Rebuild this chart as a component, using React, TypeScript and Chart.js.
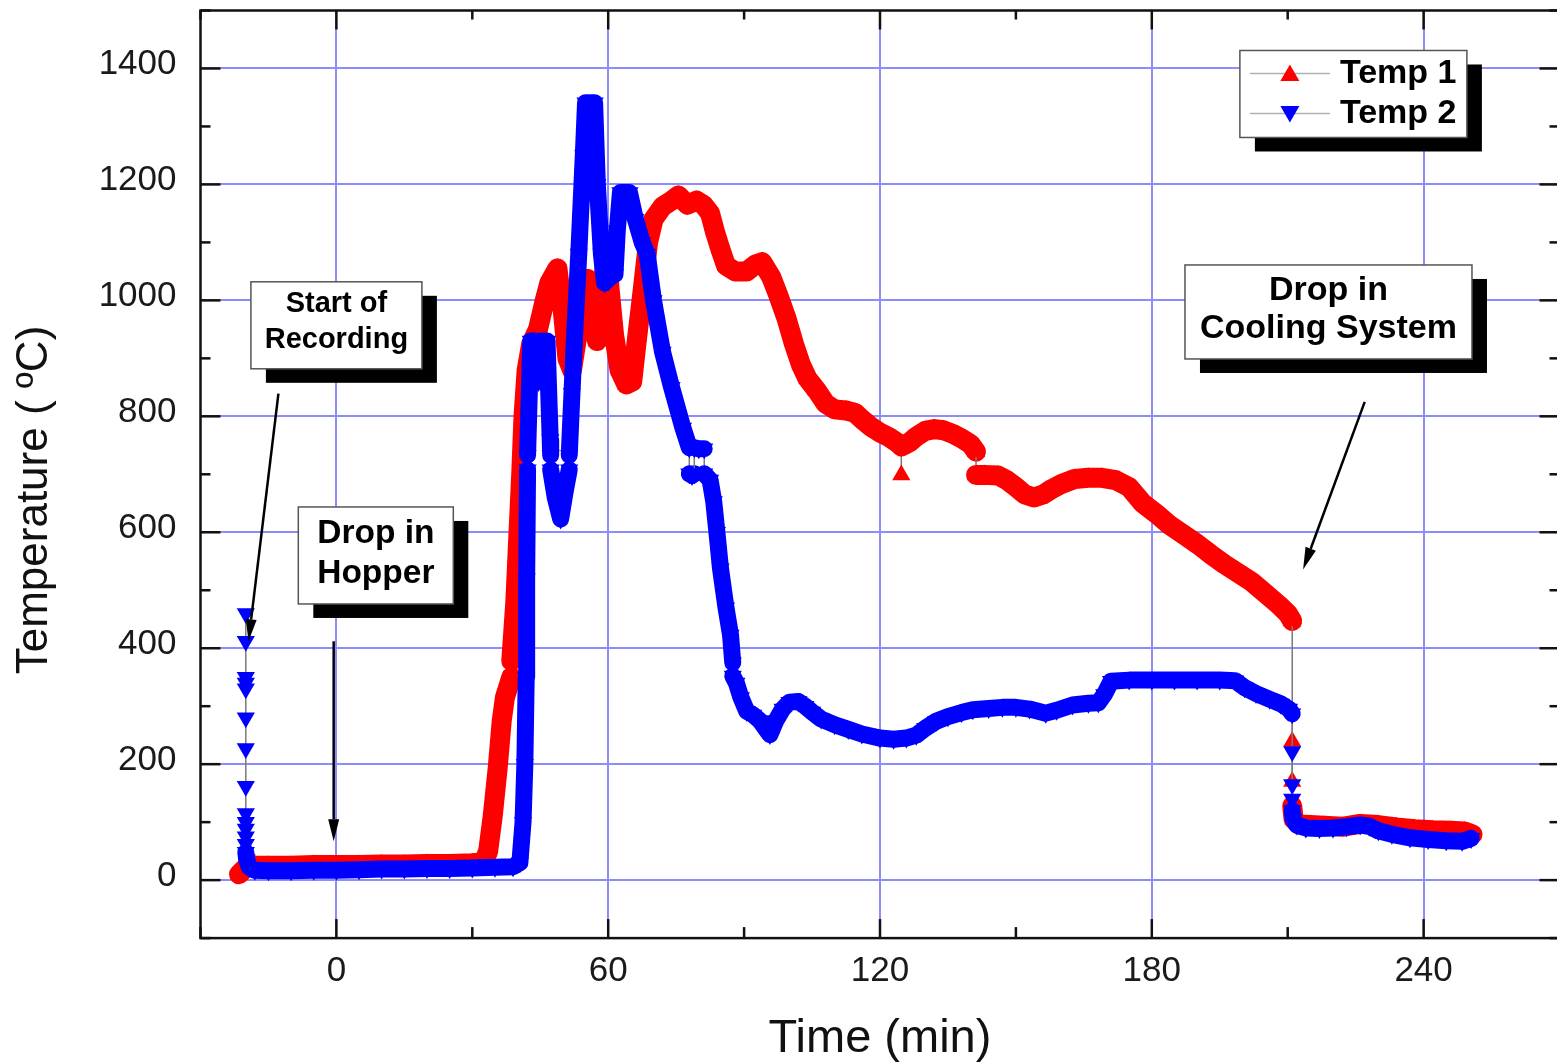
import { useEffect, useRef } from "react";
import { Chart, registerables } from "chart.js";

Chart.register(...registerables);

// ---------------- data ----------------
const seriesNames = ["Temp 1", "Temp 2"];

const temp1Time = [
  -21.5, -20.5, -19.5, -15, -10, -5, 0, 5, 10, 15, 20, 25, 30, 32.5, 33.5, 34.5, 35.6, 36.5, 37.2, 38.6, 38.6,
  39.5, 40.2, 40.8, 41.3, 42, 43, 44.5, 46, 47, 48.8, 50, 51, 52, 53, 54.5, 55.4, 56.5, 57.5, 58.5, 59.5, 60.3,
  61.3, 62.5, 64, 65.3, 66.3, 67.5, 68.8, 70, 72, 74, 75.5, 77.5, 79.5, 81, 82.5, 83.5, 84.7, 86, 88, 90.6, 92.5,
  94, 96, 97.5, 99.4, 101, 102.5, 104, 106, 108, 110, 112.5, 114.5, 116, 118, 120, 122, 124.7, 124.7, 124.7,
  126.5, 128, 130, 132, 134, 136, 138, 140, 141.2, 141.2, 143, 146, 148, 150, 152, 154, 156, 158, 160, 163, 166,
  169, 172, 175, 178, 181, 184, 187, 190, 193, 196, 199, 202, 205, 208, 210, 211, 211, 211, 211, 211.3, 212.5,
  215, 218, 222, 226, 230, 234, 238, 242, 246, 249, 250.8,
];
const temp1Values = [
  10, 18, 25, 25, 25, 26, 26, 26, 27, 27, 28, 28, 29, 31, 50, 110, 193, 275, 315, 350, 378,
  480, 600, 700, 800, 880, 925, 950, 1000, 1030, 1055, 980, 900, 880, 930, 1000, 1037, 1000, 930, 960, 1100, 1020,
  940, 880, 855, 860, 930, 1010, 1100, 1140, 1162, 1172, 1181, 1165, 1172, 1165, 1150, 1120, 1090, 1060, 1050, 1050, 1062,
  1066, 1040, 1010, 968, 925, 890, 865, 845, 822, 812, 810, 806, 795, 782, 772, 764, 750, 699, 748,
  755, 765, 775, 778, 776, 770, 762, 752, 739, 699, 699, 698, 690, 678, 665, 660, 665, 675, 683, 692, 694,
  694, 690, 678, 650, 632, 612, 596, 580, 562, 545, 530, 515, 495, 475, 460, 447, 239, 170, 128, 105, 96,
  95, 94, 92, 97, 95, 91, 88, 86, 85, 84, 79,
];

const temp2Time = [
  -20, -20, -20, -20, -20, -20, -20, -20, -20, -20, -20, -20, -20, -20, -19.8, -19.2, -18, -15, -10, -5, 0, 5, 10,
  15, 20, 25, 30, 35, 39, 40.5, 41.2, 41.6, 41.9, 42.0, 42.2, 42.2, 42.9, 44, 44.6, 45.3, 46.5, 47.2, 47.3, 47.3,
  48.3, 49.5, 50.5, 51.4, 51.4, 52, 52.6, 53.5, 54.5, 55, 57, 57.6, 58.5, 59.2, 60.3, 61.5, 62, 62.7, 64.7, 66,
  67.5, 68.6, 70, 72, 74, 76.5, 77.9, 77.9, 78.5, 79, 79, 80, 81.2, 81.2, 82.5, 83.3, 84, 84.8, 86, 87, 87.5, 87.5,
  88.3, 89.3, 90.6, 92, 93.5, 95.7, 97, 98.5, 100, 102, 103.5, 105, 107, 110, 113, 116, 120, 123, 125.8, 128, 130,
  132.4, 135, 138, 140.5, 144, 147, 150, 153, 156.6, 159, 162.5, 166, 168.2, 169.5, 171, 175, 180, 185, 190, 195,
  198.4, 200.5, 203, 206, 208.5, 210.3, 211, 211, 211, 211, 211, 211.2, 212, 214, 217, 220, 223, 226, 228, 230,
  233, 237, 241, 245, 248.5, 250.5,
];
const temp2Values = [
  460, 412, 350, 340, 330, 280, 227, 162, 115, 100, 88, 75, 62, 48, 35, 22, 17, 16, 16, 17, 17, 18, 19,
  19, 20, 20, 21, 22, 23, 30, 100, 200, 350, 520, 708, 733, 930, 930, 860, 930, 930, 760, 733, 708,
  660, 623, 670, 708, 733, 840, 942, 1080, 1250, 1341, 1341, 1200, 1080, 1030, 1040, 1045, 1120, 1186, 1186, 1140,
  1100, 1080, 1000, 911, 850, 780, 746, 701, 698, 701, 746, 744, 744, 701, 690, 653, 600, 537, 470, 423, 375, 352,
  340, 315, 291, 285, 275, 251, 275, 295, 307, 308, 300, 290, 278, 268, 260, 252, 245, 243, 245, 250, 262,
  274, 282, 289, 294, 296, 298, 298, 295, 288, 293, 302, 305, 306, 320, 343, 345, 345, 345, 345, 345,
  344, 332, 322, 312, 304, 295, 287, 222, 165, 140, 120, 105, 95, 90, 89, 90, 92, 95, 93, 85,
  79, 73, 70, 68, 67, 72,
];

const xMajorTicks = [0, 60, 120, 180, 240];
const xMinorTicks = [-30, 30, 90, 150, 210, 270];
const yMajorTicks = [0, 200, 400, 600, 800, 1000, 1200, 1400];
const yMinorTicks = [-100, 100, 300, 500, 700, 900, 1100, 1300, 1500];

const xTitle = "Time (min)";
const yTitle = "Temperature ( \u00BAC)";
const noteStart = ["Start of", "Recording"];
const noteHopper = ["Drop in", "Hopper"];
const noteCooling = ["Drop in", "Cooling System"];

// ---------------- styling / layout ----------------
const FONT = "'Liberation Sans', Arial, Helvetica, sans-serif";
const RED = "#ff0000";
const BLUE = "#0000ff";
const GRID = "#8c8cff";

type Box = { t: number; v: number; w: number; h: number; lines: string[]; offs: number[]; size: number };
const boxes: Box[] = [
  { t: 0, v: 957, w: 171, h: 87, lines: noteStart, offs: [-21, 14.5], size: 29 },
  { t: 8.7, v: 560, w: 155, h: 97, lines: noteHopper, offs: [-22, 18], size: 33.5 },
  { t: 219, v: 980, w: 287, h: 94, lines: noteCooling, offs: [-21, 17], size: 34 },
];
const arrows = [
  { t1: -12.8, v1: 839, t2: -19.4, v2: 412 },
  { t1: -0.6, v1: 412, t2: -0.6, v2: 67 },
  { t1: 227, v1: 825, t2: 213.4, v2: 536 },
];
const legendAnchor = { t: 224.5, v: 1356, w: 227, h: 87 };

const isGap = (c: any) => Math.abs(c.p1.x - c.p0.x) < 0.05;

function drawArrow(ctx: CanvasRenderingContext2D, x1: number, y1: number, x2: number, y2: number) {
  const ang = Math.atan2(y2 - y1, x2 - x1);
  const hl = 22;
  const hw = 5.5;
  const bx = x2 - Math.cos(ang) * hl;
  const by = y2 - Math.sin(ang) * hl;
  ctx.strokeStyle = "#000";
  ctx.lineWidth = 2.5;
  ctx.beginPath();
  ctx.moveTo(x1, y1);
  ctx.lineTo(bx, by);
  ctx.stroke();
  ctx.fillStyle = "#000";
  ctx.beginPath();
  ctx.moveTo(x2, y2);
  ctx.lineTo(bx - Math.sin(ang) * hw, by + Math.cos(ang) * hw);
  ctx.lineTo(bx + Math.sin(ang) * hw, by - Math.cos(ang) * hw);
  ctx.closePath();
  ctx.fill();
}

function drawShadowBox(ctx: CanvasRenderingContext2D, cx: number, cy: number, w: number, h: number) {
  const l = cx - w / 2;
  const t = cy - h / 2;
  ctx.fillStyle = "#000";
  ctx.fillRect(l + 15, t + 14, w, h);
  ctx.fillStyle = "#fff";
  ctx.fillRect(l, t, w, h);
  ctx.strokeStyle = "#555";
  ctx.lineWidth = 1.5;
  ctx.strokeRect(l, t, w, h);
}

function triangle(ctx: CanvasRenderingContext2D, x: number, y: number, r: number, down: boolean) {
  const s = down ? -1 : 1;
  ctx.beginPath();
  ctx.moveTo(x, y - s * r);
  ctx.lineTo(x + r * 0.866, y + s * r * 0.5);
  ctx.lineTo(x - r * 0.866, y + s * r * 0.5);
  ctx.closePath();
  ctx.fill();
}

const decorPlugin = {
  id: "decor",
  afterDatasetsDraw(chart: any) {
    const { ctx, chartArea: ca, scales } = chart;
    const xs = scales.x;
    const ys = scales.y;
    ctx.save();
    ctx.strokeStyle = "#111";
    ctx.lineWidth = 2.5;
    ctx.strokeRect(ca.left, ca.top, ca.right - ca.left, ca.bottom - ca.top);
    const seg = (a: number, b: number, c: number, d: number) => {
      ctx.beginPath();
      ctx.moveTo(a, b);
      ctx.lineTo(c, d);
      ctx.stroke();
    };
    xMajorTicks.forEach((v) => {
      const p = xs.getPixelForValue(v);
      seg(p, ca.bottom, p, ca.bottom - 19);
      seg(p, ca.top, p, ca.top + 19);
    });
    xMinorTicks.forEach((v) => {
      const p = xs.getPixelForValue(v);
      seg(p, ca.bottom, p, ca.bottom - 11);
      seg(p, ca.top, p, ca.top + 9);
    });
    yMajorTicks.forEach((v) => {
      const p = ys.getPixelForValue(v);
      seg(ca.left, p, ca.left + 20, p);
      seg(ca.right, p, ca.right - 20, p);
    });
    yMinorTicks.forEach((v) => {
      const p = ys.getPixelForValue(v);
      seg(ca.left, p, ca.left + 10, p);
      seg(ca.right, p, ca.right - 10, p);
    });
    ctx.restore();
  },
  afterDraw(chart: any) {
    const { ctx, scales } = chart;
    const xs = scales.x;
    const ys = scales.y;
    ctx.save();
    arrows.forEach((a) =>
      drawArrow(ctx, xs.getPixelForValue(a.t1), ys.getPixelForValue(a.v1), xs.getPixelForValue(a.t2), ys.getPixelForValue(a.v2))
    );
    boxes.forEach((b) => {
      const cx = xs.getPixelForValue(b.t);
      const cy = ys.getPixelForValue(b.v);
      drawShadowBox(ctx, cx, cy, b.w, b.h);
      ctx.fillStyle = "#000";
      ctx.font = `bold ${b.size}px ${FONT}`;
      ctx.textAlign = "center";
      ctx.textBaseline = "middle";
      b.lines.forEach((ln, i) => ctx.fillText(ln, cx, cy + b.offs[i]));
    });
    // legend
    const lx = xs.getPixelForValue(legendAnchor.t);
    const ly = ys.getPixelForValue(legendAnchor.v);
    drawShadowBox(ctx, lx, ly, legendAnchor.w, legendAnchor.h);
    const left = lx - legendAnchor.w / 2;
    const rows = [ly - 20.5, ly + 19.5];
    const colors = [RED, BLUE];
    rows.forEach((ry, i) => {
      ctx.strokeStyle = "#b0b0b0";
      ctx.lineWidth = 1.5;
      ctx.beginPath();
      ctx.moveTo(left + 10, ry);
      ctx.lineTo(left + 90, ry);
      ctx.stroke();
      ctx.fillStyle = colors[i];
      triangle(ctx, left + 50, ry + (i === 0 ? 2 : -2), 11, i === 1);
      ctx.fillStyle = "#000";
      ctx.font = `bold 34px ${FONT}`;
      ctx.textAlign = "left";
      ctx.textBaseline = "middle";
      ctx.fillText(seriesNames[i], left + 100, ry);
    });
    // y axis title
    ctx.translate(35, 500);
    ctx.rotate(-Math.PI / 2);
    ctx.fillStyle = "#111";
    ctx.font = `44px ${FONT}`;
    ctx.textAlign = "center";
    ctx.textBaseline = "middle";
    ctx.fillText(yTitle, 0, 0);
    ctx.restore();
  },
};

function makeDataset(label: string, data: { x: number; y: number }[], color: string, width: number, order: number, rot: number) {
  return {
    label,
    data,
    order,
    borderColor: color,
    backgroundColor: color,
    borderWidth: width,
    borderJoinStyle: "round",
    borderCapStyle: "round",
    pointStyle: "triangle",
    pointRotation: rot,
    pointRadius: 10.5,
    pointBorderWidth: 0,
    pointBackgroundColor: color,
    tension: 0,
    segment: {
      borderColor: (c: any) => (isGap(c) ? "#7a7a7a" : undefined),
      borderWidth: (c: any) => (isGap(c) ? 1.5 : undefined),
    },
  } as any;
}

export default function App() {
  const ref = useRef<HTMLCanvasElement>(null);

  useEffect(() => {
    const canvas = ref.current;
    if (!canvas) return;
    const data1 = temp1Time.map((t, i) => ({ x: t, y: temp1Values[i] }));
    const data2 = temp2Time.map((t, i) => ({ x: t, y: temp2Values[i] }));
    const chart = new Chart(canvas, {
      type: "line",
      data: {
        datasets: [
          makeDataset(seriesNames[0], data1, RED, 20, 1, 0),
          makeDataset(seriesNames[1], data2, BLUE, 17, 0, 180),
        ],
      },
      options: {
        animation: false,
        responsive: false,
        devicePixelRatio: 1,
        layout: { padding: { top: 8.6, right: 7, left: 0, bottom: 0 } },
        plugins: { legend: { display: false }, tooltip: { enabled: false } },
        scales: {
          x: {
            type: "linear",
            min: -30,
            max: 270,
            afterBuildTicks: (s: any) => {
              s.ticks = xMajorTicks.map((v) => ({ value: v }));
            },
            afterFit: (s: any) => {
              s.height = 124.9;
              s.paddingLeft = 0;
              s.paddingRight = 0;
            },
            grid: { color: GRID, lineWidth: 2, drawTicks: false },
            border: { display: false },
            ticks: {
              padding: 12.5,
              color: "#1a1a1a",
              font: { family: FONT, size: 35 },
              maxRotation: 0,
              callback: (v: any) => String(v),
            },
            title: {
              display: true,
              text: xTitle,
              color: "#111",
              font: { family: FONT, size: 47, lineHeight: 1 },
              padding: { top: 0, bottom: 0 },
            },
          },
          y: {
            type: "linear",
            min: -100,
            max: 1500,
            afterBuildTicks: (s: any) => {
              s.ticks = yMajorTicks.map((v) => ({ value: v }));
            },
            afterFit: (s: any) => {
              s.width = 200.5;
              s.paddingTop = 0;
              s.paddingBottom = 0;
            },
            grid: { color: GRID, lineWidth: 2, drawTicks: false },
            border: { display: false },
            ticks: {
              padding: 24,
              labelOffset: -4,
              color: "#1a1a1a",
              font: { family: FONT, size: 35 },
              callback: (v: any) => String(v),
            },
          },
        },
      },
      plugins: [decorPlugin],
    } as any);
    return () => chart.destroy();
  }, []);

  return (
    <div
      style={{
        position: "fixed",
        left: 0,
        top: 0,
        width: 1557,
        height: 1063,
        overflow: "hidden",
        background: "#fff",
      }}
    >
      <canvas ref={ref} width={1570} height={1063} style={{ display: "block", width: 1570, height: 1063 }} />
    </div>
  );
}
